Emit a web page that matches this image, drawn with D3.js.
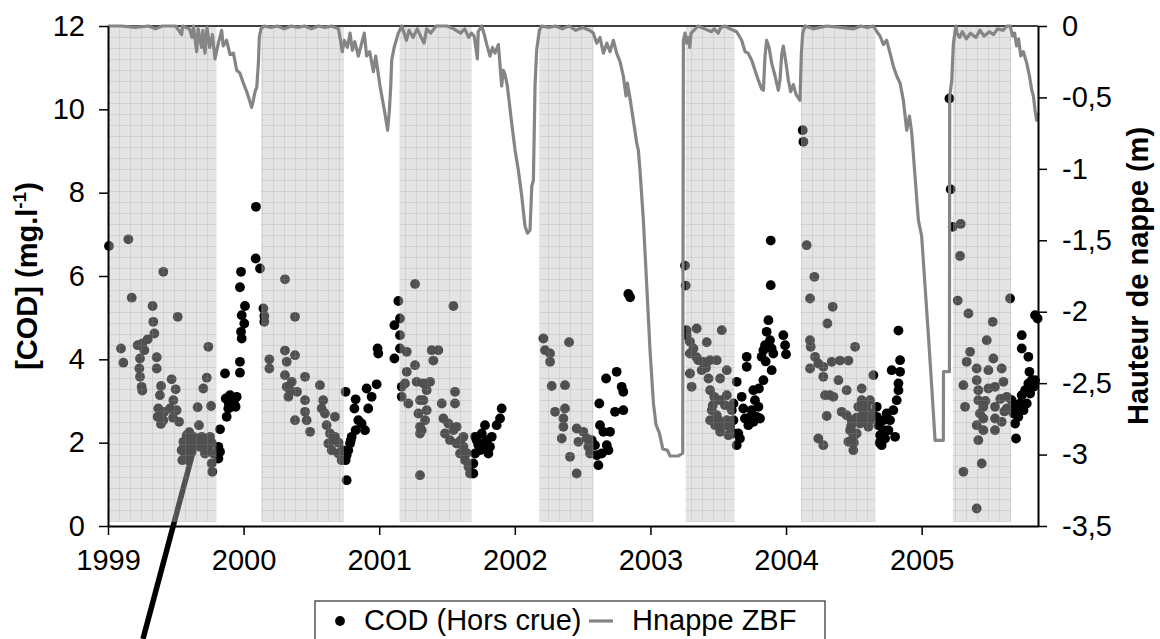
<!DOCTYPE html>
<html><head><meta charset="utf-8">
<script src="https://cdn.jsdelivr.net/npm/d3@7"></script>
<style>body{margin:0;background:#fff}svg{display:block}text{font-family:"Liberation Sans",Arial,sans-serif}</style>
</head><body><svg id="c" width="1160" height="639"></svg>
<script>
// ---- data ----
const yearTicks = [1999,2000,2001,2002,2003,2004,2005];
const codTicks = [0,2,4,6,8,10,12];
const napTicks = [0,-0.5,-1,-1.5,-2,-2.5,-3,-3.5];
const napTickLabels = ["0","-0,5","-1","-1,5","-2","-2,5","-3","-3,5"];
// shaded periods [start, end] (decimal years)
const shadedPeriods = [[1999.0,1999.80],[2000.13,2000.74],[2001.15,2001.68],[2002.18,2002.58],[2003.26,2003.62],[2004.11,2004.66],[2005.23,2005.66]];
// COD (Hors crue) [year, mg/l]
const cod1999 = [[1999.007,6.72],[1999.150,6.88],[1999.175,5.48],[1999.408,6.10],[1999.329,5.28],[1999.334,4.90],[1999.342,4.62],[1999.293,4.48],[1999.253,4.38],[1999.219,4.34],[1999.096,4.26],[1999.113,3.92],[1999.268,4.22],[1999.236,4.02],[1999.231,3.78],[1999.236,3.58],[1999.248,3.34],[1999.253,3.25],[1999.514,5.02],[1999.359,4.05],[1999.359,3.78],[1999.469,3.52],[1999.499,3.28],[1999.482,3.02],[1999.391,3.36],[1999.383,3.14],[1999.371,2.82],[1999.415,2.74],[1999.457,2.82],[1999.506,2.78],[1999.524,2.50],[1999.408,2.54],[1999.366,2.62],[1999.390,2.45],[1999.480,2.60],[1999.740,4.30],[1999.728,3.56],[1999.703,3.30],[1999.760,2.88],[1999.661,2.85],[1999.671,2.42],[1999.580,2.18],[1999.556,2.02],[1999.592,1.98],[1999.629,2.14],[1999.654,2.10],[1999.691,2.14],[1999.715,2.06],[1999.752,2.14],[1999.764,2.00],[1999.543,1.82],[1999.568,1.74],[1999.548,1.58],[1999.715,1.74],[1999.777,1.74],[1999.764,1.50],[1999.769,1.30],[1999.617,1.78],[1999.592,1.58],[1999.678,1.90],[1999.600,2.25],[1999.640,1.95],[1999.700,1.95],[1999.740,1.90],[1999.560,1.90],
 [1999.814,1.90],[1999.826,1.78],[1999.814,1.62],[1999.826,2.32],[1999.863,3.66],[1999.868,3.06],[1999.900,3.14],[1999.924,3.02],[1999.949,3.10],[1999.887,2.82],[1999.912,2.86],[1999.941,2.86],[1999.875,2.62],[1999.890,2.95],[1999.930,2.95],[1999.973,3.68],[1999.973,3.94],[1999.986,4.50],[1999.981,4.66],[2000.005,4.86],[1999.986,5.06],[2000.010,5.28],[1999.973,5.73],[1999.981,6.10],[2000.091,7.66],[2000.089,6.42],[2000.121,6.18]];
const cod2000 = [[2000.146,5.22],[2000.153,5.04],[2000.153,4.90],[2000.305,5.92],[2000.379,5.02],[2000.190,4.00],[2000.190,3.78],[2000.305,4.21],[2000.379,4.10],[2000.318,3.94],[2000.305,3.62],[2000.453,3.58],[2000.318,3.34],[2000.355,3.46],[2000.330,3.10],[2000.394,3.22],[2000.453,3.02],[2000.563,3.38],[2000.587,3.02],[2000.575,2.82],[2000.600,2.70],[2000.379,2.54],[2000.453,2.74],[2000.465,2.54],[2000.490,2.26],[2000.612,2.42],[2000.674,2.62],[2000.637,2.22],[2000.674,2.14],[2000.625,1.98],[2000.650,1.82],[2000.699,1.74],[2000.723,1.58],[2000.728,1.82],[2000.700,2.00],[2000.660,2.05],[2000.345,3.25],
 [2000.752,3.22],[2000.760,1.10],[2000.752,1.58],[2000.772,1.82],[2000.785,1.98],[2000.797,2.14],[2000.826,2.30],[2000.846,2.54],[2000.817,2.82],[2000.826,3.04],[2000.870,2.46],[2000.895,2.30],[2000.907,3.30],[2000.944,3.10],[2000.919,2.82],[2000.981,3.40],[2000.988,4.26],[2000.993,4.14],[2001.112,4.82],[2001.112,4.02],[2001.141,5.40],[2000.760,1.70],[2000.790,2.05]];
const cod2001 = [[2001.153,4.98],[2001.153,4.58],[2001.153,4.26],[2001.203,4.18],[2001.264,5.81],[2001.264,3.86],[2001.203,3.70],[2001.166,3.34],[2001.190,3.42],[2001.276,3.46],[2001.166,3.10],[2001.215,2.94],[2001.301,3.02],[2001.289,2.70],[2001.301,2.38],[2001.301,2.22],[2001.301,1.22],[2001.326,3.42],[2001.350,3.26],[2001.326,3.02],[2001.350,2.78],[2001.338,2.54],[2001.313,2.30],[2001.387,4.22],[2001.436,4.22],[2001.399,3.97],[2001.547,5.28],[2001.375,3.46],[2001.461,2.94],[2001.559,3.22],[2001.559,2.94],[2001.473,2.58],[2001.510,2.46],[2001.547,2.30],[2001.485,2.22],[2001.522,2.06],[2001.571,1.98],[2001.621,1.90],[2001.596,1.74],[2001.633,1.58],[2001.658,1.42],[2001.670,1.26],[2001.621,2.14],[2001.571,2.38],[2001.600,2.05],[2001.645,1.75],
 [2001.694,1.26],[2001.694,1.50],[2001.707,1.74],[2001.719,2.06],[2001.707,2.14],[2001.756,2.22],[2001.780,2.42],[2001.793,2.06],[2001.817,1.90],[2001.805,1.74],[2001.768,1.98],[2001.830,2.14],[2001.866,2.42],[2001.891,2.58],[2001.903,2.82],[2001.744,1.82],[2001.730,1.95],[2001.780,1.85]];
const cod2002 = [[2002.211,4.50],[2002.223,4.22],[2002.260,4.14],[2002.260,3.94],[2002.400,4.41],[2002.272,3.36],[2002.370,3.38],[2002.370,2.82],[2002.297,2.74],[2002.358,2.58],[2002.358,2.38],[2002.346,2.10],[2002.456,2.34],[2002.469,2.02],[2002.505,2.26],[2002.530,2.10],[2002.542,1.90],[2002.555,1.74],[2002.407,1.66],[2002.456,1.26],[2002.567,2.06],
 [2002.591,1.94],[2002.604,1.70],[2002.616,1.46],[2002.641,1.74],[2002.678,1.94],[2002.690,1.82],[2002.628,2.42],[2002.653,2.26],[2002.702,2.26],[2002.623,2.94],[2002.673,3.54],[2002.751,3.70],[2002.788,3.34],[2002.800,3.22],[2002.739,2.74],[2002.800,2.78],[2002.837,5.57],[2002.850,5.49]];
const cod2003 = [[2003.255,6.25],[2003.260,5.77],[2003.267,4.70],[2003.267,4.58],[2003.341,4.74],[2003.526,4.70],[2003.415,4.41],[2003.292,4.42],[2003.317,4.26],[2003.292,4.14],[2003.353,3.98],[2003.390,3.94],[2003.440,3.98],[2003.489,3.98],[2003.563,3.74],[2003.292,3.66],[2003.304,3.34],[2003.378,3.74],[2003.428,3.54],[2003.440,3.26],[2003.514,3.54],[2003.514,3.02],[2003.563,3.14],[2003.452,2.78],[2003.489,2.66],[2003.440,2.54],[2003.477,2.42],[2003.514,2.26],[2003.563,2.54],[2003.587,2.38],[2003.600,2.78],[2003.612,2.22],[2003.575,2.18],[2003.612,2.94],[2003.612,2.54],[2003.460,2.90],[2003.500,2.55],[2003.540,2.40],[2003.550,2.90],[2003.470,3.10],[2003.340,4.05],[2003.410,3.80],
 [2003.636,1.94],[2003.648,2.22],[2003.673,3.10],[2003.685,2.82],[2003.697,2.58],[2003.710,4.06],[2003.710,3.82],[2003.722,2.42],[2003.747,2.78],[2003.759,3.26],[2003.771,3.02],[2003.784,2.62],[2003.796,2.86],[2003.808,2.58],[2003.636,3.46],[2003.820,4.06],[2003.833,4.22],[2003.833,3.50],[2003.845,4.34],[2003.857,4.66],[2003.870,4.94],[2003.882,4.46],[2003.894,4.26],[2003.894,3.74],[2003.887,6.85],[2003.887,5.78],[2003.906,4.14],[2003.980,4.58],[2003.993,4.34],[2004.000,4.12],[2003.660,2.10],[2003.730,2.60],[2003.760,2.50],[2003.800,3.30],[2003.850,3.95],[2003.865,4.30]];
const cod2004 = [[2004.123,9.50],[2004.128,9.22],[2004.152,6.74],[2004.209,5.98],[2004.177,5.46],[2004.177,4.46],[2004.182,4.30],[2004.344,5.26],[2004.305,4.86],[2004.509,4.30],[2004.214,4.06],[2004.238,3.90],[2004.177,3.78],[2004.275,3.82],[2004.337,3.94],[2004.398,3.97],[2004.460,3.97],[2004.386,3.50],[2004.447,3.26],[2004.275,3.58],[2004.288,3.14],[2004.324,3.14],[2004.349,3.10],[2004.300,2.64],[2004.410,2.74],[2004.447,2.66],[2004.484,2.54],[2004.558,3.30],[2004.558,3.02],[2004.619,3.02],[2004.595,2.86],[2004.533,2.86],[2004.472,2.30],[2004.496,2.14],[2004.496,1.82],[2004.521,2.22],[2004.546,2.46],[2004.582,2.54],[2004.607,2.38],[2004.632,2.70],[2004.238,2.10],[2004.275,1.94],[2004.460,2.02],[2004.520,2.60],[2004.570,2.70],[2004.620,2.55],[2004.480,2.40],[2004.500,2.00],
 [2004.644,3.62],[2004.669,2.86],[2004.669,2.62],[2004.680,2.42],[2004.693,2.18],[2004.705,1.94],[2004.718,2.54],[2004.742,2.70],[2004.755,2.30],[2004.767,2.54],[2004.779,3.74],[2004.791,2.78],[2004.816,3.02],[2004.829,3.42],[2004.829,3.26],[2004.841,3.70],[2004.841,3.98],[2004.829,4.69],[2004.804,2.14],[2004.718,2.30],[2004.690,2.00],[2004.730,2.10]];
const cod2005 = [[2005.205,10.26],[2005.214,8.08],[2005.229,7.18],[2005.288,7.25],[2005.283,6.48],[2005.266,5.41],[2005.345,5.10],[2005.524,4.90],[2005.480,4.46],[2005.357,4.18],[2005.332,3.94],[2005.406,3.78],[2005.492,3.74],[2005.529,4.02],[2005.590,3.78],[2005.652,5.46],[2005.308,3.38],[2005.406,3.50],[2005.418,3.26],[2005.492,3.30],[2005.541,3.34],[2005.603,3.46],[2005.628,3.10],[2005.320,2.86],[2005.418,3.02],[2005.455,2.86],[2005.541,2.86],[2005.628,2.82],[2005.430,2.70],[2005.455,2.58],[2005.541,2.58],[2005.590,2.50],[2005.406,2.42],[2005.455,2.30],[2005.541,2.30],[2005.418,2.06],[2005.443,1.50],[2005.308,1.30],[2005.406,0.42],[2005.580,3.05],[2005.610,2.75],[2005.470,3.00],
 [2005.664,3.02],[2005.677,2.70],[2005.689,2.46],[2005.696,2.10],[2005.713,2.62],[2005.726,2.94],[2005.738,3.14],[2005.751,2.78],[2005.763,3.26],[2005.775,2.94],[2005.787,3.42],[2005.800,3.18],[2005.812,3.50],[2005.824,3.34],[2005.836,3.50],[2005.738,4.58],[2005.738,4.26],[2005.787,4.06],[2005.795,3.70],[2005.836,5.06],[2005.855,4.98],[2005.680,2.85],[2005.700,2.75]];
// Hnappe ZBF [year, m]
const hnappe = [[1999.0,0],[1999.1,0],[1999.2,-0.01],[1999.3,0],[1999.35,-0.02],[1999.4,0],[1999.5,0],[1999.543,-0.06],[1999.55,0],[1999.6,-0.02],[1999.62,-0.08],[1999.63,0],[1999.654,-0.18],[1999.665,-0.02],[1999.69,-0.15],[1999.70,-0.03],[1999.715,-0.19],[1999.73,-0.01],[1999.75,-0.15],[1999.77,-0.06],[1999.789,-0.23],[1999.814,-0.12],[1999.838,-0.03],[1999.85,-0.14],[1999.875,-0.10],[1999.90,-0.20],[1999.925,-0.19],[1999.949,-0.31],[1999.973,-0.33],[1999.998,-0.40],[2000.023,-0.46],[2000.047,-0.53],[2000.059,-0.57],[2000.072,-0.52],[2000.084,-0.46],[2000.097,-0.43],[2000.109,-0.26],[2000.116,-0.075],[2000.128,-0.02],[2000.15,0],[2000.2,-0.01],[2000.25,0],[2000.3,-0.02],[2000.35,0],[2000.4,-0.01],[2000.45,0],[2000.5,-0.02],[2000.55,0],[2000.6,-0.01],[2000.65,0],[2000.7,-0.02],
 [2000.728,-0.18],[2000.743,-0.10],[2000.765,-0.15],[2000.785,-0.05],[2000.802,-0.17],[2000.82,-0.11],[2000.846,-0.21],[2000.871,-0.12],[2000.890,-0.05],[2000.907,-0.21],[2000.93,-0.18],[2000.957,-0.32],[2000.974,-0.21],[2001.006,-0.42],[2001.038,-0.59],[2001.062,-0.73],[2001.075,-0.59],[2001.085,-0.42],[2001.092,-0.24],[2001.11,-0.15],[2001.141,-0.05],[2001.166,0],[2001.18,-0.04],[2001.2,-0.1],[2001.22,-0.03],[2001.25,-0.08],[2001.28,-0.02],[2001.3,-0.06],[2001.33,-0.12],[2001.35,-0.02],[2001.38,-0.05],[2001.42,0],[2001.5,0],[2001.55,-0.02],[2001.6,-0.05],[2001.63,-0.02],[2001.66,-0.08],[2001.68,-0.05],[2001.70,-0.07],[2001.724,-0.23],[2001.73,-0.04],[2001.755,0],[2001.775,-0.06],[2001.793,-0.13],[2001.817,-0.21],[2001.835,-0.15],[2001.854,-0.19],[2001.879,-0.13],[2001.903,-0.42],[2001.915,-0.31],[2001.928,-0.34],[2001.945,-0.42],[2001.977,-0.68],[2002.002,-0.87],[2002.026,-1.01],[2002.051,-1.19],[2002.075,-1.40],[2002.093,-1.45],[2002.112,-1.43],[2002.125,-1.12],[2002.137,-1.08],[2002.149,-0.42],[2002.161,-0.17],[2002.181,-0.03],[2002.198,0],[2002.25,-0.01],[2002.3,0],[2002.35,-0.02],[2002.4,0],[2002.45,-0.03],[2002.5,-0.01],[2002.55,-0.03],
 [2002.579,-0.05],[2002.604,-0.12],[2002.628,-0.08],[2002.653,-0.19],[2002.678,-0.12],[2002.702,-0.18],[2002.727,-0.10],[2002.751,-0.19],[2002.776,-0.25],[2002.800,-0.35],[2002.820,-0.49],[2002.830,-0.40],[2002.850,-0.51],[2002.874,-0.66],[2002.899,-0.82],[2002.911,-0.87],[2002.923,-1.01],[2002.948,-1.36],[2002.973,-1.82],[2002.997,-2.27],[2003.022,-2.64],[2003.041,-2.79],[2003.066,-2.85],[2003.091,-2.96],[2003.125,-2.97],[2003.145,-3.01],[2003.206,-3.01],[2003.238,-2.99],[2003.243,-0.10],[2003.255,-0.05],[2003.268,-0.12],[2003.28,-0.08],[2003.29,-0.15],[2003.30,-0.05],[2003.32,-0.03],[2003.35,0],[2003.4,-0.02],[2003.45,-0.04],[2003.47,-0.02],[2003.5,-0.05],[2003.52,-0.01],[2003.55,0],[2003.587,-0.02],[2003.636,-0.04],[2003.673,-0.10],[2003.698,-0.18],[2003.72,-0.19],[2003.747,-0.24],[2003.771,-0.31],[2003.796,-0.38],[2003.820,-0.44],[2003.833,-0.45],[2003.845,-0.21],[2003.857,-0.10],[2003.875,-0.15],[2003.894,-0.26],[2003.919,-0.35],[2003.943,-0.45],[2003.955,-0.38],[2003.968,-0.20],[2003.980,-0.14],[2004.000,-0.26],[2004.017,-0.38],[2004.034,-0.46],[2004.054,-0.41],[2004.074,-0.48],[2004.103,-0.52],[2004.113,-0.19],[2004.123,-0.05],[2004.140,0],[2004.2,-0.02],[2004.3,0],[2004.4,-0.01],[2004.5,-0.02],[2004.55,0],[2004.6,-0.01],[2004.644,0],
 [2004.67,-0.04],[2004.693,-0.07],[2004.718,-0.13],[2004.742,-0.10],[2004.767,-0.19],[2004.791,-0.28],[2004.816,-0.35],[2004.841,-0.40],[2004.865,-0.52],[2004.890,-0.73],[2004.910,-0.63],[2004.927,-0.75],[2004.951,-1.05],[2004.976,-1.36],[2005.000,-1.47],[2005.025,-1.82],[2005.050,-2.17],[2005.074,-2.52],[2005.099,-2.90],[2005.160,-2.90],[2005.161,-2.42],[2005.205,-2.42],[2005.207,-0.49],[2005.222,-0.38],[2005.234,-0.12],[2005.253,0],[2005.26,-0.05],[2005.28,-0.08],[2005.3,-0.04],[2005.33,-0.09],[2005.36,-0.05],[2005.4,-0.08],[2005.43,-0.03],[2005.46,-0.07],[2005.5,-0.04],[2005.53,-0.06],[2005.56,-0.02],[2005.6,-0.03],[2005.63,0],[2005.652,0],[2005.672,-0.07],[2005.686,-0.05],[2005.700,-0.14],[2005.715,-0.09],[2005.731,-0.21],[2005.750,-0.18],[2005.775,-0.26],[2005.795,-0.35],[2005.812,-0.45],[2005.824,-0.49],[2005.836,-0.59],[2005.848,-0.66],[2005.858,-0.61]];
// annotation leader line [year, mg/l]
const leader = [[1999.258,-2.71],[1999.627,1.78]];

// ---- chart ----
const svg = d3.select("#c");
const L=108, R=1038, T=26, B=526;
const x = d3.scaleLinear().domain([1999, 2005.858]).range([L,R]);
const yL = d3.scaleLinear().domain([0,12]).range([B,T]);
const yR = d3.scaleLinear().domain([-3.5,0]).range([B,T]);

const defs = svg.append("defs");
const pat = defs.append("pattern").attr("id","hatch").attr("patternUnits","userSpaceOnUse")
  .attr("width",11).attr("height",11).attr("x",L).attr("y",T);
pat.append("rect").attr("width",11).attr("height",11).attr("fill","rgba(190,190,190,0.42)");
pat.append("rect").attr("width",11).attr("height",1).attr("fill","rgba(150,150,150,0.22)");
pat.append("rect").attr("width",1).attr("height",11).attr("fill","rgba(150,150,150,0.22)");

// leader line
svg.append("line").attr("x1",x(leader[0][0])).attr("y1",yL(leader[0][1]))
  .attr("x2",x(leader[1][0])).attr("y2",yL(leader[1][1]))
  .attr("stroke","#000").attr("stroke-width",5.5);

// dots
const allCod = [].concat(cod1999,cod2000,cod2001,cod2002,cod2003,cod2004,cod2005);
svg.append("g").selectAll("circle").data(allCod).join("circle")
  .attr("cx",d=>x(d[0])).attr("cy",d=>yL(d[1])).attr("r",4.9).attr("fill","#000");

// shading overlay
svg.append("g").selectAll("rect").data(shadedPeriods).join("rect")
  .attr("x",d=>x(d[0])).attr("width",d=>x(d[1])-x(d[0]))
  .attr("y",T+1).attr("height",yL(0.1)-T-1).attr("fill","url(#hatch)");

// frame top
svg.append("line").attr("x1",L).attr("x2",R).attr("y1",T).attr("y2",T).attr("stroke","#000").attr("stroke-width",1.5);

// water table line
svg.append("path").datum(hnappe)
  .attr("d", d3.line().x(d=>x(d[0])).y(d=>yR(d[1])))
  .attr("fill","none").attr("stroke","#858585").attr("stroke-width",3.2).attr("stroke-linejoin","round");

// axes
const fs = 29;
function styleAxis(g){
  g.selectAll(".domain").attr("stroke","#000").attr("stroke-width",2);
  g.selectAll(".tick line").attr("stroke","#000").attr("stroke-width",1.5);
  g.selectAll("text").attr("font-size",fs).attr("fill","#000").attr("font-family","Liberation Sans, Arial, sans-serif");
}
svg.append("g").attr("transform",`translate(0,${B})`)
  .call(d3.axisBottom(x).tickValues(yearTicks).tickFormat(d3.format("d")).tickSize(9).tickSizeOuter(0).tickPadding(14))
  .call(styleAxis);
svg.append("g").attr("transform",`translate(${L},0)`)
  .call(d3.axisLeft(yL).tickValues(codTicks).tickSize(9).tickSizeOuter(0).tickPadding(14))
  .call(styleAxis);
svg.append("g").attr("transform",`translate(${R},0)`)
  .call(d3.axisRight(yR).tickValues(napTicks).tickFormat((d,i)=>napTickLabels[i]).tickSize(9).tickSizeOuter(0).tickPadding(15))
  .call(styleAxis);

// axis titles
const lt = svg.append("text").attr("transform",`translate(37,${(T+B)/2}) rotate(-90)`)
  .attr("text-anchor","middle").attr("font-size",29).attr("font-weight","bold");
lt.append("tspan").text("[COD] (mg.l");
lt.append("tspan").text("-1").attr("font-size",19).attr("dy",-11);
lt.append("tspan").text(")").attr("dy",11);
svg.append("text").attr("transform",`translate(1148,${(T+B)/2}) rotate(-90)`)
  .attr("text-anchor","middle").attr("font-size",29).attr("font-weight","bold").text("Hauteur de nappe (m)");

// legend
const lg = svg.append("g");
lg.append("rect").attr("x",315).attr("y",601).attr("width",510).attr("height",60).attr("fill","#fff").attr("stroke","#000").attr("stroke-width",1);
lg.append("circle").attr("cx",340).attr("cy",621).attr("r",4.9).attr("fill","#000");
lg.append("text").attr("x",364).attr("y",630).attr("font-size",fs).text("COD (Hors crue)");
lg.append("line").attr("x1",589).attr("x2",613).attr("y1",621).attr("y2",621).attr("stroke","#858585").attr("stroke-width",3.2);
lg.append("text").attr("x",632).attr("y",630).attr("font-size",fs).text("Hnappe ZBF");
</script></body></html>
